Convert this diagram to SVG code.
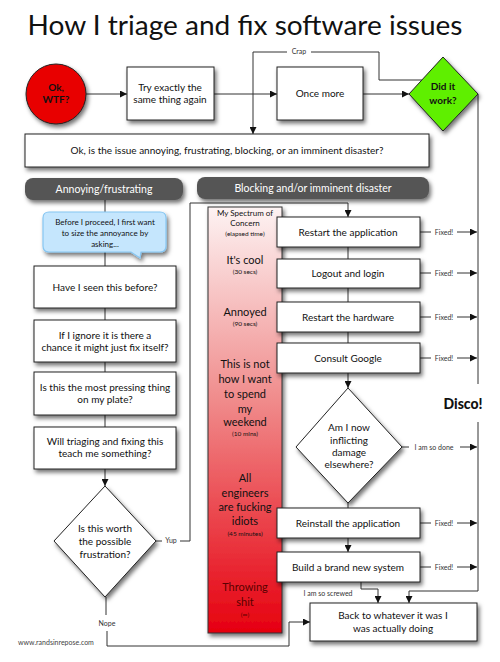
<svg xmlns="http://www.w3.org/2000/svg" width="500" height="662" viewBox="0 0 500 662">
<defs>
<style>
text{font-family:Lato,"Liberation Sans",sans-serif;fill:#111;text-anchor:middle}
.t{font-size:10px}
.s{font-size:6.5px}
.lbl{font-size:7px;fill:#333}
.box{fill:#fff;stroke:#222;stroke-width:1;filter:url(#sh)}
.c{fill:none;stroke:#333;stroke-width:1}
.a{marker-end:url(#ah)}
.pill{fill:#555;filter:url(#sh)}
.pt{fill:#fff;font-size:10.5px}
.b{font-weight:bold}
.sp{font-size:11px}
</style>
<filter id="sh" x="-20%" y="-20%" width="150%" height="170%">
<feDropShadow dx="2" dy="3" stdDeviation="2" flood-color="#000" flood-opacity="0.55"/>
</filter>
<marker id="ah" viewBox="0 0 10 10" refX="10" refY="5" markerWidth="9" markerHeight="7" orient="auto" markerUnits="userSpaceOnUse">
<path d="M0,0 L10,5 L0,10 z" fill="#111"/>
</marker>
<linearGradient id="spg" x1="0" y1="0" x2="0" y2="1">
<stop offset="0" stop-color="#fdf3f3"/>
<stop offset="0.45" stop-color="#f08c8c"/>
<stop offset="1" stop-color="#e6000f"/>
</linearGradient>
</defs>
<rect width="500" height="662" fill="#fff"/>
<text x="245" y="35" style="font-size:26px" textLength="435" lengthAdjust="spacingAndGlyphs">How I triage and fix software issues</text>

<g id="connectors">
<path class="c a" d="M86,94 H127"/>
<path class="c a" d="M214,94 H277"/>
<path class="c a" d="M363,94 H409"/>
<path class="c a" d="M422,80 H379 V52 H253 V134"/>
<rect x="287" y="47" width="24" height="9" fill="#fff"/>
<text class="lbl" x="299" y="54">Crap</text>
<path class="c" d="M478,94 V384"/>
<path class="c a" d="M478,422 V591 H409 V603"/>
<path class="c" d="M105,200 V212"/>
<path class="c" d="M105,252 V266"/>
<path class="c" d="M105,308 V320"/>
<path class="c" d="M105,362 V372"/>
<path class="c" d="M105,415 V427"/>
<path class="c a" d="M105,469 V486"/>
<path class="c" d="M156,541 H162"/>
<text class="lbl" x="171" y="543">Yup</text>
<path class="c a" d="M180,541 H190 V203 H348 V217"/>
<path class="c" d="M106,597 V615"/>
<text class="lbl" x="107" y="626">Nope</text>
<path class="c a" d="M107,631 V646 H289 V622 H310"/>
<path class="c" d="M348,247 V259"/>
<path class="c" d="M348,288 V302"/>
<path class="c" d="M348,332 V343"/>
<path class="c a" d="M348,373 V388"/>
<path class="c" d="M348,503 V508"/>
<path class="c a" d="M348,538 V552"/>
<path class="c" d="M420,232 H431"/><text class="lbl" x="444" y="235">Fixed!</text><path class="c a" d="M457,232 H477"/>
<path class="c" d="M420,273 H431"/><text class="lbl" x="444" y="276">Fixed!</text><path class="c a" d="M457,273 H477"/>
<path class="c" d="M420,317 H431"/><text class="lbl" x="444" y="320">Fixed!</text><path class="c a" d="M457,317 H477"/>
<path class="c" d="M420,358 H431"/><text class="lbl" x="444" y="361">Fixed!</text><path class="c a" d="M457,358 H477"/>
<path class="c" d="M402,447 H409"/><text class="lbl" x="434" y="450">I am so done</text><path class="c a" d="M460,447 H477"/>
<path class="c" d="M420,523 H431"/><text class="lbl" x="444" y="526">Fixed!</text><path class="c a" d="M457,523 H477"/>
<path class="c" d="M420,567 H431"/><text class="lbl" x="444" y="570">Fixed!</text><path class="c a" d="M457,567 H477"/>
<path class="c a" d="M361,582 V589 H378 V603"/>
<text class="lbl" x="328" y="596">I am so screwed</text>
</g>

<g id="start">
<circle cx="56" cy="94" r="30" fill="#e80000" stroke="#222" filter="url(#sh)"/>
<text class="t b" x="56" y="91">Ok,</text>
<text class="t b" x="56" y="103">WTF?</text>
</g>
<g id="try">
<rect class="box" x="127" y="67" width="87" height="53"/>
<text class="t" x="170" y="91">Try exactly the</text>
<text class="t" x="170" y="103">same thing again</text>
</g>
<g id="once">
<rect class="box" x="277" y="67" width="86" height="53"/>
<text class="t" x="320" y="97">Once more</text>
</g>
<g id="didit">
<polygon points="443,57 478,94 443,131 409,94" fill="#5fef00" stroke="#222" filter="url(#sh)"/>
<text class="t b" x="443" y="90">Did it</text>
<text class="t b" x="443" y="104">work?</text>
</g>
<g id="issue">
<rect class="box" x="25" y="134" width="404" height="33"/>
<text class="t" x="227" y="154">Ok, is the issue annoying, frustrating, blocking, or an imminent disaster?</text>
</g>
<g id="annoying">
<rect class="pill" x="25" y="178" width="158" height="22" rx="8"/>
<text class="pt" x="104" y="193">Annoying/frustrating</text>
</g>
<g id="blocking">
<rect class="pill" x="197" y="177" width="232" height="22" rx="8"/>
<text class="pt" x="313" y="192">Blocking and/or imminent disaster</text>
</g>
<g id="callout">
<path d="M49,212 H160 Q166,212 166,218 V246 Q166,252 160,252 H141 L140,258 L131,252 H49 Q43,252 43,246 V218 Q43,212 49,212 Z" fill="#c5e6fd" stroke="#86c6f2" stroke-width="1.2" filter="url(#sh)"/>
<text class="s" style="font-size:8px" x="105" y="225">Before I proceed, I first want</text>
<text class="s" style="font-size:8px" x="105" y="236">to size the annoyance by</text>
<text class="s" style="font-size:8px" x="105" y="247">asking...</text>
</g>
<g id="seen">
<rect class="box" x="34" y="266" width="142" height="42"/>
<text class="t" x="105" y="291">Have I seen this before?</text>
</g>
<g id="ignore">
<rect class="box" x="34" y="320" width="142" height="42"/>
<text class="t" x="105" y="339">If I ignore it is there a</text>
<text class="t" x="105" y="351">chance it might just fix itself?</text>
</g>
<g id="pressing">
<rect class="box" x="34" y="372" width="142" height="43"/>
<text class="t" x="105" y="391">Is this the most pressing thing</text>
<text class="t" x="105" y="403">on my plate?</text>
</g>
<g id="teach">
<rect class="box" x="34" y="427" width="142" height="42"/>
<text class="t" x="105" y="445">Will triaging and fixing this</text>
<text class="t" x="105" y="457">teach me something?</text>
</g>
<g id="worth">
<polygon points="105,486 156,541 105,597 54,541" fill="#fff" stroke="#222" filter="url(#sh)"/>
<text class="t" x="105" y="532">Is this worth</text>
<text class="t" x="105" y="545">the possible</text>
<text class="t" x="105" y="558">frustration?</text>
</g>
<text x="56" y="645" style="font-size:7px;fill:#444">www.randsinrepose.com</text>

<g id="spectrum">
<rect x="208" y="207" width="74" height="426" fill="url(#spg)" stroke="#333" filter="url(#sh)"/>
<text class="s" style="font-size:8px" x="245" y="216">My Spectrum of</text>
<text class="s" style="font-size:8px" x="245" y="226">Concern</text>
<text class="s" x="245" y="236">(elapsed time)</text>
<text class="sp" x="245" y="264">It's cool</text>
<text class="s" x="245" y="274">(30 secs)</text>
<text class="sp" x="245" y="316">Annoyed</text>
<text class="s" x="245" y="326">(90 secs)</text>
<text class="sp" x="245" y="368">This is not</text>
<text class="sp" x="245" y="383">how I want</text>
<text class="sp" x="245" y="398">to spend</text>
<text class="sp" x="245" y="413">my</text>
<text class="sp" x="245" y="426">weekend</text>
<text class="s" x="245" y="436">(10 mins)</text>
<text class="sp" x="245" y="482">All</text>
<text class="sp" x="245" y="497">engineers</text>
<text class="sp" x="245" y="511">are fucking</text>
<text class="sp" x="245" y="525">idiots</text>
<text class="s" x="245" y="536">(45 minutes)</text>
<text class="sp" style="fill:#5a0000" x="245" y="591">Throwing</text>
<text class="sp" style="fill:#5a0000" x="245" y="606">shit</text>
<text class="s" style="fill:#5a0000" x="245" y="617">(∞)</text>
</g>

<g id="restart-app">
<rect class="box" x="277" y="217" width="143" height="30"/>
<text class="t" x="348" y="236">Restart the application</text>
</g>
<g id="logout">
<rect class="box" x="277" y="259" width="143" height="29"/>
<text class="t" x="348" y="277">Logout and login</text>
</g>
<g id="restart-hw">
<rect class="box" x="277" y="302" width="143" height="30"/>
<text class="t" x="348" y="321">Restart the hardware</text>
</g>
<g id="google">
<rect class="box" x="277" y="343" width="143" height="30"/>
<text class="t" x="348" y="362">Consult Google</text>
</g>
<g id="damage">
<polygon points="348,388 402,447 348,503 296,447" fill="#fff" stroke="#222" filter="url(#sh)"/>
<text class="t" x="349" y="431">Am I now</text>
<text class="t" x="349" y="444">inflicting</text>
<text class="t" x="349" y="456">damage</text>
<text class="t" x="349" y="468">elsewhere?</text>
</g>
<g id="reinstall">
<rect class="box" x="277" y="508" width="143" height="30"/>
<text class="t" x="348" y="527">Reinstall the application</text>
</g>
<g id="build">
<rect class="box" x="277" y="552" width="143" height="30"/>
<text class="t" x="348" y="571">Build a brand new system</text>
</g>
<g id="back">
<rect class="box" x="310" y="603" width="167" height="38"/>
<text class="t" x="393" y="619">Back to whatever it was I</text>
<text class="t" x="393" y="632">was actually doing</text>
</g>
<g id="disco">
<text x="463" y="409" style="font-size:15px;font-weight:900" textLength="39" lengthAdjust="spacingAndGlyphs">Disco!</text>
</g>
</svg>
